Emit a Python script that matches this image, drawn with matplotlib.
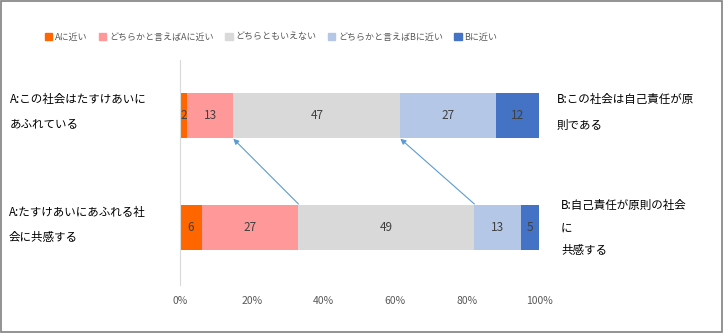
import numpy as np
import matplotlib.pyplot as plt
from matplotlib.patches import Rectangle

plt.rcParams['font.family'] = ['Noto Sans CJK JP', 'DejaVu Sans']

# 回答の区分と値
categories = ['Aに近い', 'どちらかと言えばAに近い', 'どちらともいえない', 'どちらかと言えばBに近い', 'Bに近い']
top_vals = [2, 13, 47, 27, 12]      # この社会は…
bottom_vals = [6, 27, 49, 13, 5]    # …に共感する
colors = ['#FF6600', '#FF9999', '#D9D9D9', '#B4C7E7', '#4472C4']
xticks = [0, 20, 40, 60, 80, 100]

rows = [bottom_vals, top_vals]
ypos = [0, 1]

fig = plt.figure(figsize=(7.23, 3.33), dpi=100)
ax = fig.add_axes([180 / 723, 1 - 285 / 333, 359 / 723, 225 / 333])

bar_h = 0.40
for y, vals in zip(ypos, rows):
    vals = np.array(vals, dtype=float)
    pct = vals / vals.sum() * 100
    left = 0
    for v, p, c in zip(vals, pct, colors):
        ax.barh(y, p, left=left, height=bar_h, color=c, edgecolor='none')
        ax.text(left + p / 2, y, f'{int(v)}', ha='center', va='center',
                fontsize=8.5, color='#404040')
        left += p

# 上段と下段の区切り位置を矢印で結ぶ
def cum(vals, n):
    vals = np.array(vals, dtype=float)
    return vals[:n].sum() / vals.sum() * 100

for n in (2, 3):
    ax.annotate('', xy=(cum(top_vals, n), 1 - bar_h / 2 - 0.01),
                xytext=(cum(bottom_vals, n), bar_h / 2 + 0.01),
                arrowprops=dict(arrowstyle='-|>', color='#5B9BD5', lw=0.8,
                                mutation_scale=8, shrinkA=0, shrinkB=0))

ax.set_xlim(0, 100)
ax.set_ylim(-0.51, 1.49)
ax.set_xticks(xticks)
ax.set_xticklabels([f'{t}%' for t in xticks], fontsize=7.5, color='#595959')
ax.set_yticks([])
ax.tick_params(axis='x', length=0, pad=8)
for s in ['top', 'right', 'bottom']:
    ax.spines[s].set_visible(False)
ax.spines['left'].set_color('#D9D9D9')

# 左右の説明文（1行目の中心位置で配置）
fs = 8.3
side_texts = [
    (10, 101, 'A:この社会はたすけあいに\nあふれている', 2.25),
    (9, 214, 'A:たすけあいにあふれる社\n会に共感する', 2.25),
    (557, 101, 'B:この社会は自己責任が原\n則である', 2.25),
    (561, 207, 'B:自己責任が原則の社会\nに\n共感する', 1.95),
]
for x, y, s, ls in side_texts:
    fig.text(x / 723, 1 - (y - 8) / 333, s, fontsize=fs, va='top', ha='left',
             linespacing=ls)

# 凡例
handles = [Rectangle((0, 0), 1, 1, color=c) for c in colors]
fig.legend(handles, categories, loc='center', bbox_to_anchor=(0.375, 1 - 37 / 333),
           ncol=5, frameon=False, fontsize=6.5, labelcolor='#595959',
           handlelength=0.8, handleheight=0.8, handletextpad=0.3, columnspacing=1.3)

# 外枠
fig.patches.append(Rectangle((0.0015, 0.003), 0.997, 0.994, transform=fig.transFigure,
                             fill=False, edgecolor='#808080', lw=1.2))

fig.savefig('out.png', dpi=100)
